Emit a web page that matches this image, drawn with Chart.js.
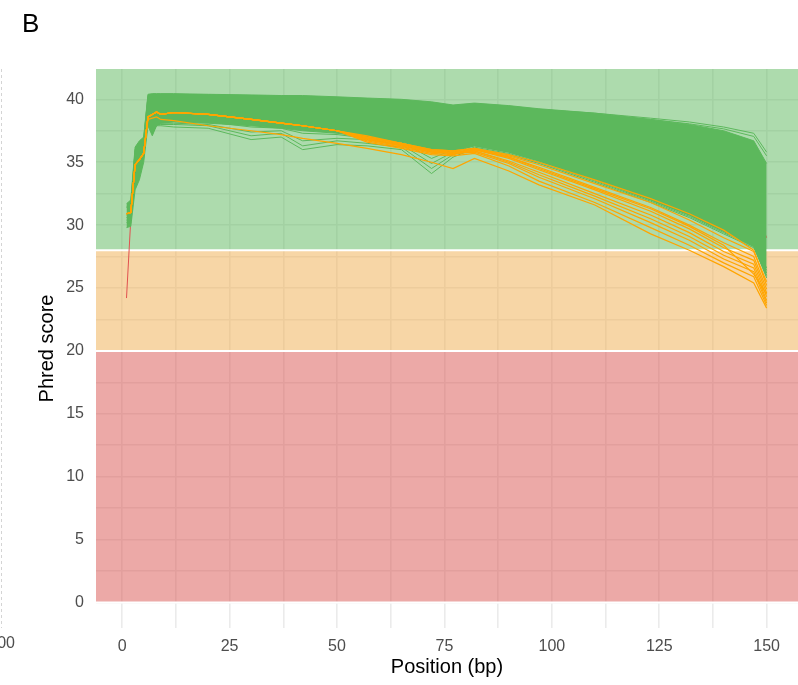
<!DOCTYPE html>
<html>
<head>
<meta charset="utf-8">
<script src="https://cdn.jsdelivr.net/npm/chart.js@4.4.0/dist/chart.umd.min.js"></script>
<style>
    html, body { margin: 0; padding: 0; background: #fff; }
    #wrap { width: 798px; height: 685px; }
</style>
</head>
<body>
<div id="wrap"><canvas id="phredchart" width="798" height="685"></canvas></div>
<script>
// read positions (bp) shared by every sample line
var positions = [1, 2, 3, 4, 5, 6, 7, 8, 9, 12, 20, 30, 37, 42, 50, 57, 65, 72, 77, 82, 90, 97, 110, 123, 132, 140, 147, 150];

// upper / lower edge of the dense block of passing (green) samples
var greenTop = [31.7, 32.0, 36.2, 36.7, 37.0, 40.4, 40.45, 40.45, 40.45, 40.45, 40.4, 40.35, 40.3, 40.3, 40.2, 40.1, 40.0, 39.8, 39.55, 39.7, 39.5, 39.25, 38.9, 38.4, 38.0, 37.5, 36.7, 34.9];
var greenLow = [29.8, 29.9, 32.8, 33.6, 35.0, 37.9, 37.1, 37.9, 38.1, 38.2, 38.1, 37.9, 37.7, 37.5, 37.3, 37.0, 36.6, 36.0, 35.9, 36.3, 35.8, 35.1, 33.6, 32.0, 30.8, 29.5, 28.3, 25.8];

// green samples that stand apart from the block
var greenSingles = [
    [30.2, 30.4, 33.5, 34.4, 35.4, 38.3, 37.3, 37.9, 37.9, 37.8, 37.7, 36.8, 37.0, 36.0, 36.4, 36.3, 36.0, 34.1, 35.4, 36.1, 35.6, 34.9, 33.4, 31.8, 30.6, 29.3, 28.2, 26.0],
    [30.4, 30.6, 33.8, 34.6, 35.6, 38.5, 37.5, 38.0, 38.0, 38.0, 37.9, 37.1, 37.3, 36.3, 36.7, 36.5, 36.2, 34.5, 35.6, 36.2, 35.7, 35.0, 33.5, 31.9, 30.7, 29.4, 28.3, 26.2],
    [30.6, 30.8, 34.0, 34.8, 35.8, 38.7, 37.7, 38.1, 38.1, 38.1, 38.0, 37.4, 37.5, 36.7, 36.9, 36.8, 36.4, 34.9, 35.8, 36.3, 35.8, 35.1, 33.6, 32.0, 30.8, 29.5, 28.4, 26.4],
    [30.8, 31.0, 34.2, 35.0, 36.0, 38.9, 38.0, 38.3, 38.3, 38.3, 38.2, 37.8, 37.7, 37.3, 37.2, 36.9, 36.6, 35.3, 36.0, 36.4, 35.9, 35.2, 33.7, 32.1, 30.9, 29.6, 28.5, 26.6],
    [31.5, 31.8, 36.0, 36.5, 36.9, 40.3, 40.4, 40.4, 40.4, 40.4, 40.35, 40.3, 40.25, 40.2, 40.1, 40.0, 39.9, 39.7, 39.5, 39.6, 39.4, 39.2, 38.9, 38.5, 38.2, 37.8, 37.3, 35.8],
    [31.4, 31.7, 35.9, 36.4, 36.8, 40.2, 40.3, 40.3, 40.3, 40.3, 40.3, 40.2, 40.2, 40.1, 40.0, 39.9, 39.8, 39.6, 39.4, 39.5, 39.3, 39.1, 38.8, 38.4, 38.05, 37.65, 37.05, 35.5]
];

// warning (orange) samples
var orangeSamples = [
    [30.9, 31.0, 34.8, 35.2, 35.7, 38.6, 38.8, 39.0, 38.8, 38.95, 38.8, 38.4, 38.1, 37.9, 37.5, 37.1, 36.5, 35.9, 35.7, 36.0, 35.5, 34.8, 33.3, 31.8, 30.4, 29.0, 27.9, 25.5],
    [30.9, 31.0, 34.8, 35.2, 35.7, 38.4, 38.5, 38.6, 38.4, 38.3, 37.9, 37.5, 37.2, 36.9, 36.5, 36.1, 35.6, 35.0, 34.5, 35.3, 34.3, 33.2, 31.6, 29.3, 28.0, 26.7, 25.4, 23.4],
    [30.9, 31.0, 34.8, 35.2, 35.7, 38.6, 38.8, 39.0, 38.8, 38.95, 38.8, 38.4, 38.1, 37.9, 37.5, 37.0, 36.5, 36.0, 35.9, 36.1, 35.6, 35.0, 33.6, 32.1, 30.9, 29.6, 28.0, 25.2],
    [30.9, 31.0, 34.8, 35.2, 35.7, 38.6, 38.8, 39.0, 38.8, 38.95, 38.8, 38.4, 38.1, 37.9, 37.5, 36.9, 36.4, 35.9, 35.8, 36.0, 35.4, 34.6, 33.0, 31.4, 30.0, 28.6, 27.5, 24.9],
    [30.9, 31.0, 34.8, 35.2, 35.7, 38.6, 38.8, 39.0, 38.8, 38.95, 38.8, 38.4, 38.1, 37.9, 37.5, 36.8, 36.3, 35.8, 35.7, 36.0, 35.3, 34.4, 32.8, 31.1, 29.7, 28.2, 27.2, 24.6],
    [30.9, 31.0, 34.8, 35.2, 35.7, 38.6, 38.8, 39.0, 38.8, 38.95, 38.8, 38.4, 38.1, 37.9, 37.5, 36.9, 36.4, 35.9, 35.8, 35.9, 35.1, 34.2, 32.5, 30.8, 29.4, 27.9, 26.9, 24.3],
    [30.9, 31.0, 34.8, 35.2, 35.7, 38.6, 38.8, 39.0, 38.8, 38.95, 38.8, 38.4, 38.1, 37.9, 37.5, 36.7, 36.2, 35.7, 35.6, 35.9, 35.0, 34.0, 32.3, 30.5, 29.1, 27.6, 26.6, 24.0],
    [30.9, 31.0, 34.8, 35.2, 35.7, 38.6, 38.8, 39.0, 38.8, 38.95, 38.8, 38.4, 38.1, 37.9, 37.5, 36.8, 36.3, 35.8, 35.7, 35.8, 34.9, 33.8, 32.1, 30.2, 28.8, 27.3, 26.3, 23.8],
    [30.9, 31.0, 34.8, 35.2, 35.7, 38.6, 38.8, 39.0, 38.8, 38.95, 38.8, 38.4, 38.1, 37.9, 37.5, 36.6, 36.1, 35.6, 35.5, 35.7, 34.7, 33.5, 31.8, 29.8, 28.4, 27.0, 25.9, 23.6],
    [30.9, 31.0, 34.8, 35.2, 35.7, 38.6, 38.8, 39.0, 38.8, 38.95, 38.8, 38.4, 38.1, 37.9, 37.5, 37.0, 36.5, 36.0, 35.9, 36.1, 35.4, 34.5, 32.9, 31.3, 29.9, 28.4, 26.1, 24.5]
];

// the one failing (red) sample, mostly hidden under the green block
var redSample = [24.2, 30.5, 33.5, 34.5, 35.5, 39.0, 39.2, 39.5, 39.5, 39.5, 39.4, 39.2, 39.0, 38.9, 38.7, 38.5, 38.2, 37.8, 37.7, 37.9, 37.5, 37.0, 36.0, 34.8, 33.8, 32.8, 31.5, 29.0];

// quality zones: fail below 20, warn 20-28, pass above 28
var bandLimits = [0, 20, 28];

var xTicks = [0, 12.5, 25, 37.5, 50, 62.5, 75, 87.5, 100, 112.5, 125, 137.5, 150];
var yTicks = [0, 2.5, 5, 7.5, 10, 12.5, 15, 17.5, 20, 22.5, 25, 27.5, 30, 32.5, 35, 37.5, 40];
var xRange = [-6.1, 157.3];
var yRange = [-2.03, 42.41];

var GREEN = "#5cb85c";
var ORANGE = "#ffa500";
var RED = "#e0504e";
var bandColors = ["rgba(217, 83, 79, 0.5)", "rgba(240, 173, 78, 0.5)", "rgba(92, 184, 92, 0.5)"];
var FONT = "'Liberation Sans', Arial, Helvetica, sans-serif";

function toPoints(vals) {
    return positions.map(function (p, i) { return { x: p, y: vals[i] }; });
}

function lineSet(vals, color, width, order, extra) {
    var ds = {
        data: toPoints(vals),
        borderColor: color,
        borderWidth: width,
        pointRadius: 0,
        tension: 0,
        fill: false,
        order: order
    };
    if (extra) Object.assign(ds, extra);
    return ds;
}

var datasets = [];
orangeSamples.forEach(function (s) { datasets.push(lineSet(s, ORANGE, 1.2, 1)); });
datasets.push(lineSet(greenTop, GREEN, 1, 2, { fill: "+1", backgroundColor: GREEN }));
datasets.push(lineSet(greenLow, GREEN, 1, 2));
greenSingles.forEach(function (s) { datasets.push(lineSet(s, GREEN, 1, 2)); });
datasets.push(lineSet(redSample, RED, 1, 3));

var zonePlugin = {
    id: "zones",
    beforeDatasetsDraw: function (chart) {
        var ctx = chart.ctx, a = chart.chartArea, y = chart.scales.y;
        var edges = bandLimits.concat([y.max]);
        ctx.save();
        ctx.beginPath();
        ctx.rect(a.left, a.top, a.right - a.left, a.bottom - a.top);
        ctx.clip();
        for (var i = 0; i < bandLimits.length; i++) {
            var y0 = y.getPixelForValue(edges[i]);
            var y1 = y.getPixelForValue(edges[i + 1]);
            ctx.fillStyle = bandColors[i];
            ctx.fillRect(a.left, y1, a.right - a.left, y0 - y1);
        }
        ctx.strokeStyle = "#ffffff";
        ctx.lineWidth = 2;
        bandLimits.forEach(function (v) {
            var py = y.getPixelForValue(v);
            ctx.beginPath();
            ctx.moveTo(a.left, py);
            ctx.lineTo(a.right, py);
            ctx.stroke();
        });
        ctx.restore();
    },
    afterDraw: function (chart) {
        var ctx = chart.ctx, a = chart.chartArea;
        ctx.save();
        // panel letter
        ctx.fillStyle = "#000";
        ctx.font = "26px " + FONT;
        ctx.textAlign = "left";
        ctx.textBaseline = "alphabetic";
        ctx.fillText("B", 22, 32);
        // edge of the neighbouring panel
        ctx.strokeStyle = "#d4d4d4";
        ctx.lineWidth = 1;
        ctx.setLineDash([3, 3]);
        ctx.beginPath();
        ctx.moveTo(1.5, a.top);
        ctx.lineTo(1.5, a.bottom);
        ctx.stroke();
        ctx.fillStyle = "#4d4d4d";
        ctx.font = "16px " + FONT;
        ctx.textAlign = "right";
        ctx.textBaseline = "middle";
        ctx.fillText("100", 15, 644);
        ctx.restore();
    }
};

new Chart(document.getElementById("phredchart"), {
    type: "line",
    data: { datasets: datasets },
    plugins: [zonePlugin],
    options: {
        responsive: false,
        animation: false,
        events: [],
        devicePixelRatio: 1,
        layout: { padding: { top: 69, left: 0, right: 0, bottom: 0 } },
        plugins: { legend: { display: false }, tooltip: { enabled: false } },
        scales: {
            x: {
                type: "linear",
                min: xRange[0],
                max: xRange[1],
                afterBuildTicks: function (s) { s.ticks = xTicks.map(function (v) { return { value: v }; }); },
                afterFit: function (s) { s.height = 57; },
                border: { display: false },
                grid: { color: "#ebebeb", lineWidth: 1.6, drawTicks: false },
                ticks: {
                    autoSkip: false, maxRotation: 0, padding: 9,
                    color: "#4d4d4d", font: { family: FONT, size: 16 },
                    callback: function (v) { return v % 25 === 0 ? v : ""; }
                },
                title: {
                    display: true, text: "Position (bp)", color: "#000",
                    font: { family: FONT, size: 20 }, padding: { top: 0, bottom: 6 }
                }
            },
            y: {
                type: "linear",
                min: yRange[0],
                max: yRange[1],
                afterBuildTicks: function (s) { s.ticks = yTicks.map(function (v) { return { value: v }; }); },
                afterFit: function (s) { s.width = 96; },
                border: { display: false },
                grid: { color: "#ebebeb", lineWidth: 1.6, drawTicks: false },
                ticks: {
                    autoSkip: false, padding: 12,
                    color: "#4d4d4d", font: { family: FONT, size: 16 },
                    callback: function (v) { return v % 5 === 0 ? v : ""; }
                },
                title: {
                    display: true, text: "Phred score", color: "#000",
                    font: { family: FONT, size: 20 }, padding: { top: 35, bottom: 0 }
                }
            }
        }
    }
});
</script>
</body>
</html>
